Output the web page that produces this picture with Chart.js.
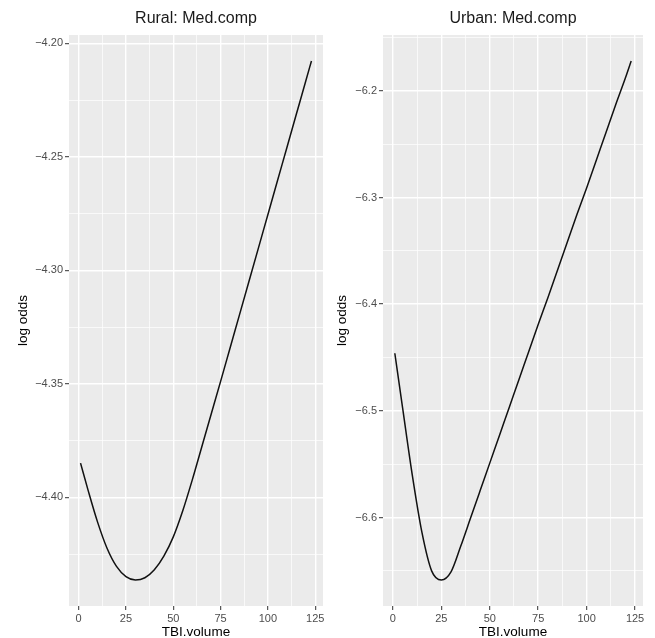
<!DOCTYPE html>
<html>
<head>
<meta charset="utf-8">
<script src="https://cdn.jsdelivr.net/npm/chart.js@4.4.1/dist/chart.umd.min.js"></script>
<style>
  html, body { margin: 0; padding: 0; background: #fff; }
  #wrap { position: relative; width: 655px; height: 638px; }
  canvas { position: absolute; top: 0; }
</style>
</head>
<body>
<div id="wrap">
  <canvas id="rural" width="327" height="638" style="left:0"></canvas>
  <canvas id="urban" width="328" height="638" style="left:327px"></canvas>
</div>
<script>
// values
const tbiVolume = [1, 5, 10, 15, 20, 25, 30, 35, 40, 45, 50, 55, 60, 65, 70, 75, 80, 85, 90, 95, 100, 105, 110, 115, 120, 123];
const ruralLogOdds = [-4.3849, -4.3969, -4.4109, -4.4224, -4.4304, -4.4349, -4.4364, -4.4354, -4.4319, -4.4259,
                      -4.4174, -4.4059, -4.3924, -4.3779, -4.3634, -4.3489, -4.3342, -4.3195, -4.3048, -4.2901,
                      -4.2754, -4.2607, -4.2460, -4.2313, -4.2166, -4.2078];
const urbanLogOdds = [-6.446, -6.497, -6.560, -6.614, -6.650, -6.6586, -6.651, -6.627, -6.601, -6.575,
                      -6.549, -6.523, -6.497, -6.471, -6.445, -6.419, -6.394, -6.368, -6.342, -6.316,
                      -6.291, -6.265, -6.239, -6.213, -6.188, -6.172];

const xTicks = [0, 25, 50, 75, 100, 125];
const ruralYTicks = [-4.40, -4.35, -4.30, -4.25, -4.20];
const urbanYTicks = [-6.6, -6.5, -6.4, -6.3, -6.2];

Chart.defaults.font.family = '"Liberation Sans", Arial, Helvetica, sans-serif';

// ggplot style 5% expansion
function expand(vals) {
  const lo = Math.min(...vals), hi = Math.max(...vals);
  const d = (hi - lo) * 0.05;
  return [lo - d, hi + d];
}

// majors plus the minor lines half way between them
function withMinors(majors, lo, hi) {
  const step = majors[1] - majors[0];
  const out = majors.slice();
  out.push(majors[0] - step / 2);
  majors.forEach(m => out.push(m + step / 2));
  return out.filter(v => v >= lo && v <= hi).sort((a, b) => a - b);
}

const isMajor = (v, majors) => majors.some(m => Math.abs(m - v) < 1e-9);

const panelBg = {
  id: 'panelBg',
  beforeDraw(chart) {
    const { ctx, chartArea: a } = chart;
    ctx.save();
    ctx.fillStyle = '#EBEBEB';
    ctx.fillRect(a.left, a.top, a.right - a.left, a.bottom - a.top);
    ctx.restore();
  }
};

const stripTitle = {
  id: 'stripTitle',
  afterDraw(chart, args, opts) {
    const { ctx, chartArea: a } = chart;
    ctx.save();
    ctx.font = '16px "Liberation Sans", Arial, sans-serif';
    ctx.fillStyle = '#1A1A1A';
    ctx.textAlign = 'center';
    ctx.textBaseline = 'middle';
    ctx.fillText(opts.text, (a.left + a.right) / 2, 19);
    ctx.restore();
  }
};

function drawPanel(id, title, vals, yMajors, decimals, yTitlePad, yWidth, padRight) {
  const [xMin, xMax] = expand(tbiVolume);
  const [yMin, yMax] = expand(vals);
  const xAll = withMinors(xTicks, xMin, xMax);
  const yAll = withMinors(yMajors, yMin, yMax);

  new Chart(document.getElementById(id), {
    type: 'line',
    data: {
      datasets: [{
        data: tbiVolume.map((x, i) => ({ x: x, y: vals[i] })),
        borderColor: '#111',
        borderWidth: 1.5,
        pointRadius: 0,
        fill: false,
        cubicInterpolationMode: 'monotone'
      }]
    },
    options: {
      responsive: false,
      animation: false,
      layout: { padding: { top: 35, right: padRight, left: 0, bottom: 0 } },
      plugins: {
        legend: { display: false },
        tooltip: { enabled: false },
        stripTitle: { text: title }
      },
      scales: {
        x: {
          type: 'linear',
          min: xMin,
          max: xMax,
          afterBuildTicks: s => { s.ticks = xAll.map(v => ({ value: v })); },
          afterFit: s => { s.height = 32; },
          border: { display: false },
          grid: {
            color: '#FFFFFF',
            lineWidth: c => isMajor(c.tick.value, xTicks) ? 1.4 : 0.7,
            tickLength: 4,
            tickWidth: 1,
            tickColor: c => isMajor(c.tick.value, xTicks) ? '#333333' : 'rgba(0,0,0,0)'
          },
          ticks: {
            autoSkip: false,
            maxRotation: 0,
            padding: 2,
            color: '#4D4D4D',
            font: { size: 11 },
            callback: v => isMajor(v, xTicks) ? String(v) : ''
          },
          title: {
            display: true,
            text: 'TBI.volume',
            color: '#000',
            font: { size: 13.5 },
            padding: { top: 0, bottom: -2.5 }
          }
        },
        y: {
          type: 'linear',
          min: yMin,
          max: yMax,
          afterBuildTicks: s => { s.ticks = yAll.map(v => ({ value: v })); },
          afterFit: s => { s.width = yWidth; },
          border: { display: false },
          grid: {
            color: '#FFFFFF',
            lineWidth: c => isMajor(c.tick.value, yMajors) ? 1.4 : 0.7,
            tickLength: 4,
            tickWidth: 1,
            tickColor: c => isMajor(c.tick.value, yMajors) ? '#333333' : 'rgba(0,0,0,0)'
          },
          ticks: {
            autoSkip: false,
            padding: 2,
            color: '#4D4D4D',
            font: { size: 11 },
            callback: v => isMajor(v, yMajors) ? '\u2212' + Math.abs(v).toFixed(decimals) : ''
          },
          title: {
            display: true,
            text: 'log odds',
            color: '#000',
            font: { size: 13.5 },
            padding: { top: yTitlePad, bottom: 0 }
          }
        }
      }
    },
    plugins: [panelBg, stripTitle]
  });
}

drawPanel('rural', 'Rural: Med.comp', ruralLogOdds, ruralYTicks, 2, 15, 69, 4);
drawPanel('urban', 'Urban: Med.comp', urbanLogOdds, urbanYTicks, 1, 7, 56, 12);
</script>
</body>
</html>
